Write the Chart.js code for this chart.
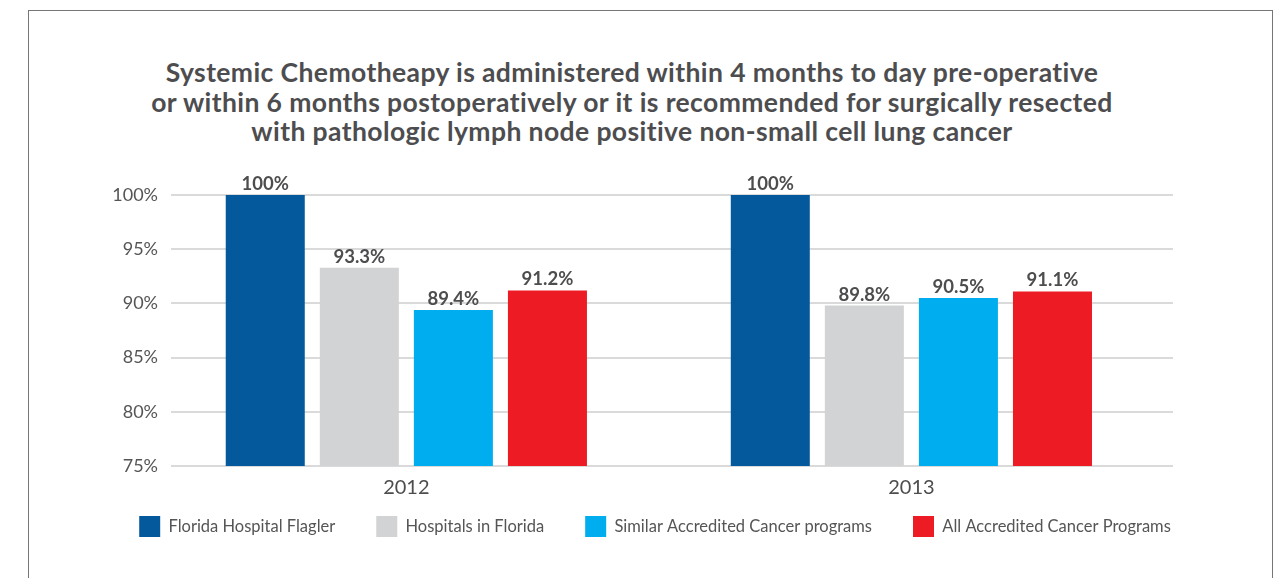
<!DOCTYPE html>
<html>
<head>
<meta charset="utf-8">
<script src="https://cdn.jsdelivr.net/npm/chart.js@4.4.1/dist/chart.umd.min.js"></script>
<style>
  html, body { margin: 0; padding: 0; background: #fff; }
  body { width: 1281px; height: 578px; position: relative; overflow: hidden; }
  #frame { position: absolute; left: 28px; top: 10px; width: 1245px; height: 620px;
           border: 1.5px solid #767676; box-sizing: border-box; }
  #title { position: absolute; left: 82px; width: 1100px; top: 58px; text-align: center;
           font: 700 26.5px/29.5px Lato, sans-serif; letter-spacing: 0.4px; color: #4d4d4f; }
  #chart { position: absolute; left: 0; top: 0; }
</style>
</head>
<body>
<div id="frame"></div>
<div id="title">Systemic Chemotheapy is administered within 4 months to day pre-operative<br>or within 6 months postoperatively or it is recommended for surgically resected<br>with pathologic lymph node positive non-small cell lung cancer</div>
<canvas id="chart" width="1281" height="578"></canvas>
<script>
const years = [2012, 2013];
const seriesNames = ['Florida Hospital Flagler', 'Hospitals in Florida',
  'Similar Accredited Cancer programs', 'All Accredited Cancer Programs'];
const flagler = [100, 100];
const floridaHospitals = [93.3, 89.8];
const similarPrograms = [89.4, 90.5];
const allPrograms = [91.2, 91.1];
const seriesColors = ['#03599c', '#d1d3d4', '#00adee', '#ed1c24'];
const yTicks = [75, 80, 85, 90, 95, 100];

const textGray = '#4d4d4f';

// draws the value above each bar
const valueLabels = {
  id: 'valueLabels',
  afterDatasetsDraw(chart) {
    const ctx = chart.ctx;
    ctx.save();
    ctx.font = '700 18.5px Lato';
    ctx.fillStyle = textGray;
    ctx.textAlign = 'center';
    ctx.textBaseline = 'alphabetic';
    chart.data.datasets.forEach((ds, i) => {
      chart.getDatasetMeta(i).data.forEach((bar, j) => {
        ctx.fillText(ds.data[j].y + '%', bar.x, bar.y - 5);
      });
    });
    ctx.restore();
  }
};

// pull the legend up closer to the year labels
const legendLift = {
  id: 'legendLift',
  afterLayout(chart) {
    chart.legend.top -= 25;
    chart.legend.bottom -= 25;
  }
};

const seriesValues = [flagler, floridaHospitals, similarPrograms, allPrograms];

new Chart(document.getElementById('chart'), {
  type: 'bar',
  data: {
    datasets: seriesValues.map((vals, i) => ({
      label: seriesNames[i],
      data: years.map((yr, j) => ({ x: yr, y: vals[j] })),
      backgroundColor: seriesColors[i],
      borderWidth: 0,
      categoryPercentage: 0.745,
      barPercentage: 0.84
    }))
  },
  options: {
    responsive: false,
    animation: false,
    layout: { padding: { left: 49, right: 20, top: 195, bottom: 6 } },
    plugins: {
      tooltip: { enabled: false },
      legend: {
        position: 'bottom',
        labels: {
          boxWidth: 21, boxHeight: 21, padding: 41,
          color: '#555', font: { family: 'Lato', size: 16.5 }
        }
      }
    },
    scales: {
      x: {
        type: 'linear',
        bounds: 'data',
        offset: false,
        min: 2011.534, max: 2013.518,
        afterBuildTicks(scale) { scale.ticks = years.map(v => ({ value: v })); },
        grid: { display: false, drawTicks: false },
        border: { display: false },
        ticks: {
          autoSkip: false, maxRotation: 0,
          callback: v => String(v),
          color: textGray, font: { family: 'Lato', size: 20 }, padding: 10
        },
        afterFit(scale) { scale.height = 34; }
      },
      y: {
        min: 75, max: 100,
        afterBuildTicks(scale) { scale.ticks = yTicks.map(v => ({ value: v })); },
        ticks: {
          callback: v => v + '%',
          color: '#555', font: { family: 'Lato', size: 18 }, padding: 13
        },
        grid: { color: '#dadada', lineWidth: 2, drawTicks: false },
        border: { display: false },
        afterFit(scale) { scale.width = 122; }
      },
      spacer: {
        type: 'linear',
        position: 'right',
        grid: { display: false },
        border: { display: false },
        ticks: { display: false },
        afterFit(scale) { scale.width = 88; }
      }
    }
  },
  plugins: [valueLabels, legendLift]
});
</script>
</body>
</html>
